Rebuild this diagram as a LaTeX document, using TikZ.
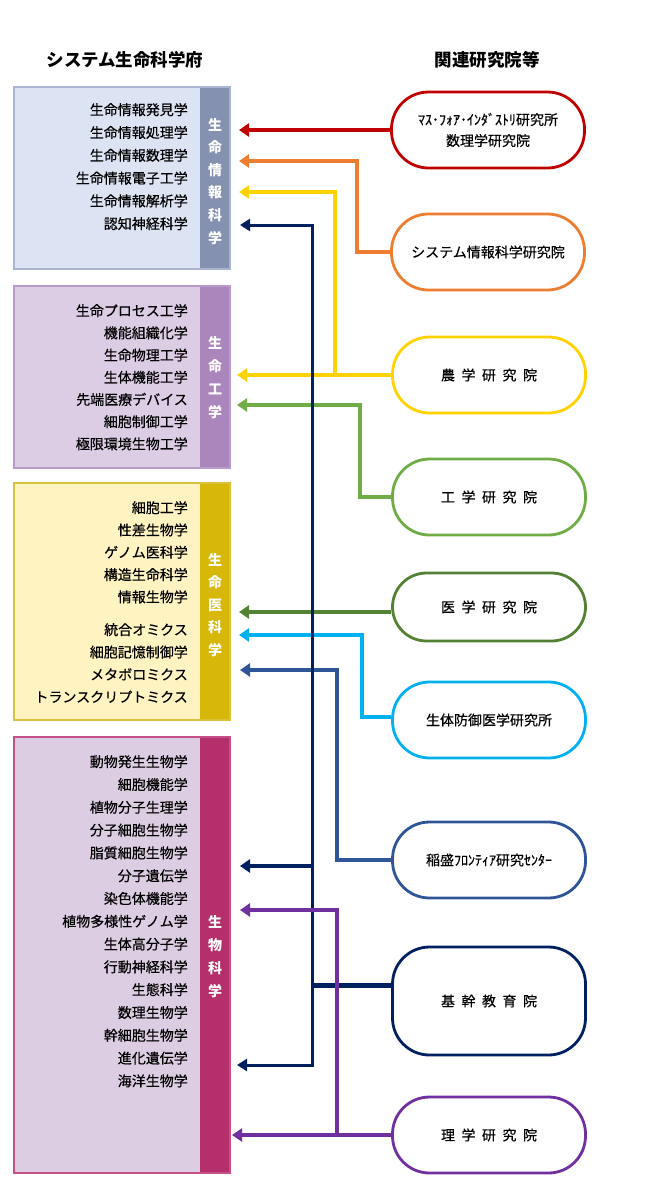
\documentclass[tikz,border=0pt]{standalone}
\usepackage{fontspec}
\setmainfont{Noto Sans CJK JP}
\newfontfamily\itemfont[FakeBold=0.4]{Noto Sans CJK JP}
\usetikzlibrary{arrows.meta}
\definecolor{cRed}{HTML}{C00000}
\definecolor{cOrange}{HTML}{ED7D31}
\definecolor{cYellow}{HTML}{FFD200}
\definecolor{cGreen}{HTML}{70AD47}
\definecolor{cDkGreen}{HTML}{548235}
\definecolor{cCyan}{HTML}{00B0F0}
\definecolor{cBlue}{HTML}{2F5597}
\definecolor{cNavy}{HTML}{002060}
\definecolor{cPurple}{HTML}{7030A0}
\definecolor{fA}{HTML}{DCE3F3}\definecolor{bA}{HTML}{8491B1}\definecolor{dA}{HTML}{A9B4D0}
\definecolor{fB}{HTML}{DDCDE4}\definecolor{bB}{HTML}{AB86BC}\definecolor{dB}{HTML}{B99BC9}
\definecolor{fC}{HTML}{FFF3C2}\definecolor{bC}{HTML}{D6B70A}\definecolor{dC}{HTML}{DCC23A}
\definecolor{fD}{HTML}{DDCDE2}\definecolor{bD}{HTML}{B52F6A}\definecolor{dD}{HTML}{C4508A}
\newcommand{\sg}{\hspace{6.5pt}}
\tikzset{
  title/.style={font=\fontsize{17.5}{20}\selectfont\bfseries, inner sep=0pt},
  item/.style={font=\itemfont\fontsize{14}{16}\selectfont, anchor=base east, inner sep=0pt},
  barchar/.style={font=\fontsize{14}{16}\selectfont\bfseries, text=white, anchor=base, inner sep=0pt},
  panel/.style={anchor=north west, minimum width=186pt, inner sep=0pt, outer sep=0pt},
  bar/.style={anchor=north west, minimum width=30pt, inner sep=0pt, outer sep=0pt},
  stad/.style={draw, line width=2.8pt, fill=white, minimum width=193pt, minimum height=76pt,
     rounded corners=37pt, align=center, font=\itemfont\fontsize{14}{21}\selectfont, inner sep=0pt},
  tip/.style={Triangle[length=10pt,width=13pt]},
  conn/.style={line width=4.5pt, -{Triangle[length=10pt,width=13pt]}},
  dconn/.style={line width=3pt, {Triangle[length=10pt,width=12pt]}-{Triangle[length=10pt,width=12pt]}},
  plain/.style={line width=3pt}
}
\begin{document}
\begin{tikzpicture}[x=1pt,y=-1pt]
\useasboundingbox (0,0) rectangle (650,1199);
% titles
\node[title] (t1) at (125,60) {システム生命科学府};
\node[title] (t2) at (487,60) {関連研究院等};

% panels
\node[panel, fill=fA, minimum height=182pt] (p1) at (14,87) {};
\node[bar, fill=bA, minimum height=182pt] (q1) at (200,87) {};
\draw[dA, line width=1.2pt] (p1.north west) rectangle (q1.south east);

\node[panel, fill=fB, minimum height=182pt] (p2) at (14,286) {};
\node[bar, fill=bB, minimum height=182pt] (q2) at (200,286) {};
\draw[dB, line width=1.2pt] (p2.north west) rectangle (q2.south east);

\node[panel, fill=fC, minimum height=237pt] (p3) at (14,483) {};
\node[bar, fill=bC, minimum height=237pt] (q3) at (200,483) {};
\draw[dC, line width=1.2pt] (p3.north west) rectangle (q3.south east);

\node[panel, fill=fD, minimum height=436pt] (p4) at (14,737) {};
\node[bar, fill=bD, minimum height=436pt] (q4) at (200,737) {};
\draw[dD, line width=1.2pt] (p4.north west) rectangle (q4.south east);

% items
\foreach \s [count=\i from 0] in {生命情報発見学,生命情報処理学,生命情報数理学,生命情報電子工学,生命情報解析学,認知神経科学}
  \node[item] (a\i) at (188,{115+22.8*\i}) {\s};
\foreach \s [count=\i from 0] in {生命プロセス工学,機能組織化学,生命物理工学,生体機能工学,先端医療デバイス,細胞制御工学,極限環境生物工学}
  \node[item] (b\i) at (188,{316+22.2*\i}) {\s};
\foreach \s [count=\i from 0] in {細胞工学,性差生物学,ゲノム医科学,構造生命科学,情報生物学}
  \node[item] (c\i) at (188,{513+22.3*\i}) {\s};
\foreach \s [count=\i from 0] in {統合オミクス,細胞記憶制御学,メタボロミクス,トランスクリプトミクス}
  \node[item] (d\i) at (188,{635+22.4*\i}) {\s};
\foreach \s [count=\i from 0] in {動物発生生物学,細胞機能学,植物分子生理学,分子細胞生物学,脂質細胞生物学,分子遺伝学,染色体機能学,植物多様性ゲノム学,生体高分子学,行動神経科学,生態科学,数理生物学,幹細胞生物学,進化遺伝学,海洋生物学}
  \node[item] (e\i) at (188,{767+22.8*\i}) {\s};

% bar labels
\foreach \s [count=\i from 0] in {生,命,情,報,科,学}
  \node[barchar] (va\i) at (215,{130+22.6*\i}) {\s};
\foreach \s [count=\i from 0] in {生,命,工,学}
  \node[barchar] (vb\i) at (215,{348+23*\i}) {\s};
\foreach \s [count=\i from 0] in {生,命,医,科,学}
  \node[barchar] (vc\i) at (215,{565+22.5*\i}) {\s};
\foreach \s [count=\i from 0] in {生,物,科,学}
  \node[barchar] (vd\i) at (215,{927+23*\i}) {\s};

% right institutes
\node[stad, draw=cRed] (r1) at (488,130) {ﾏｽ･ﾌｫｱ･ｲﾝﾀﾞｽﾄﾘ研究所\\数理学研究院};
\node[stad, draw=cOrange] (r2) at (488,252) {システム情報科学研究院};
\node[stad, draw=cYellow] (r3) at (489,375) {農\sg 学\sg 研\sg 究\sg 院};
\node[stad, draw=cGreen] (r4) at (489,497) {工\sg 学\sg 研\sg 究\sg 院};
\node[stad, draw=cDkGreen, minimum height=68pt, rounded corners=34pt] (r5) at (489,607) {医\sg 学\sg 研\sg 究\sg 院};
\node[stad, draw=cCyan] (r6) at (489,720) {生体防御医学研究所};
\node[stad, draw=cBlue] (r7) at (489,860) {稲盛ﾌﾛﾝﾃｨｱ研究ｾﾝﾀｰ};
\node[stad, draw=cNavy, minimum height=108pt] (r8) at (489,1001) {基\sg 幹\sg 教\sg 育\sg 院};
\node[stad, draw=cPurple] (r9) at (489,1135) {理\sg 学\sg 研\sg 究\sg 院};

% coordinates
\coordinate (x1) at (239,130);
\coordinate (k2) at (357,161); \coordinate (x2) at (239,161);
\coordinate (x3) at (237,375); \coordinate (j3) at (335,375); \coordinate (x3b) at (239,192);
\coordinate (k4) at (360,405); \coordinate (x4) at (237,405);
\coordinate (x5) at (239,612);
\coordinate (k6) at (362,635); \coordinate (x6) at (239,635);
\coordinate (k7) at (337,670); \coordinate (x7) at (240,670);
\coordinate (x8a) at (240,225); \coordinate (k8) at (312,1065); \coordinate (x8c) at (237,1065);
\coordinate (j8) at (312,866); \coordinate (x8b) at (240,866); \coordinate (j8c) at (312,985);
\coordinate (x9) at (232,1135); \coordinate (j9) at (337,1135); \coordinate (x9b) at (240,910);

% connectors
\draw[conn, cRed] (r1.west) -- (x1);
\draw[conn, cOrange] (r2.west) -| (k2) -- (x2);
\draw[conn, cYellow] (r3.west) -- (x3);
\draw[conn, cYellow] (j3) |- (x3b);
\draw[conn, cGreen] (r4.west) -| (k4) -- (x4);
\draw[conn, cDkGreen] ([yshift=-5pt]r5.west) -- (x5);
\draw[conn, cCyan] ([yshift=3pt]r6.west) -| (k6) -- (x6);
\draw[conn, cBlue] (r7.west) -| (k7) -- (x7);
\draw[dconn, cNavy] (x8a) -| (k8) -- (x8c);
\draw[conn, cNavy] (j8) -- (x8b);
\draw[plain, cNavy, line width=5pt] ([yshift=16pt]r8.west) -- ([xshift=-1.5pt]j8c);
\draw[conn, cPurple] (r9.west) -- (x9);
\draw[conn, cPurple] (j9) |- (x9b);
\end{tikzpicture}
\end{document}
